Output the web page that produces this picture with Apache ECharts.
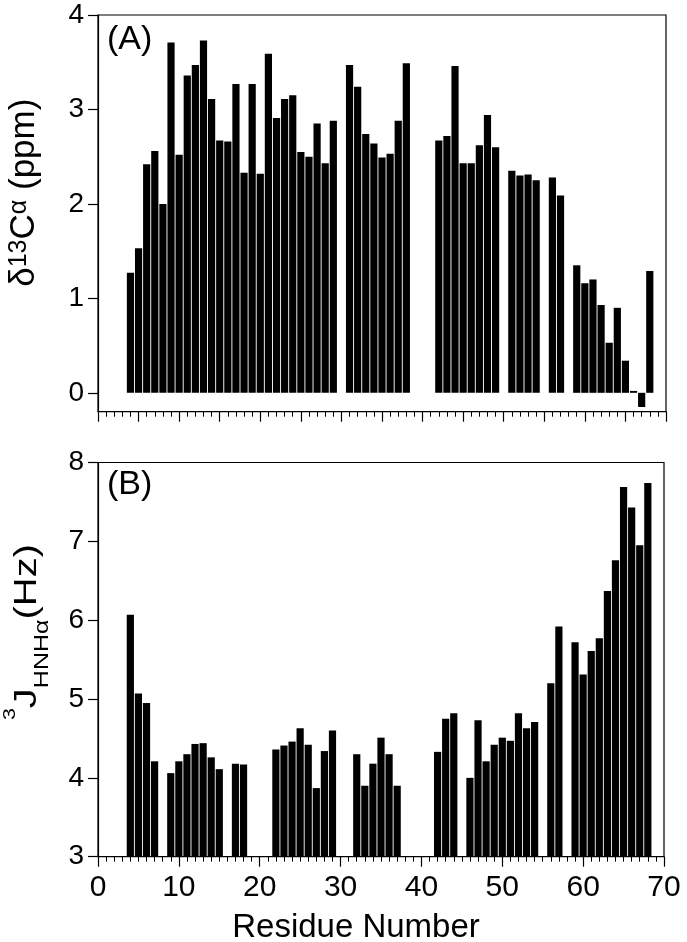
<!DOCTYPE html>
<html>
<head>
<meta charset="utf-8">
<script src="https://cdn.jsdelivr.net/npm/echarts@6/dist/echarts.min.js"></script>
<style>
html,body{margin:0;padding:0;background:#fff;}
#c{width:687px;height:942px;}
</style>
</head>
<body>
<div id="c"></div>
<script>
// Panel A: delta 13C-alpha secondary shift (ppm)
const residuesA = [4,5,6,7,8,9,10,11,12,13,14,15,16,17,18,19,20,21,22,23,24,25,26,27,28,29,
  31,32,33,34,35,36,37,38,
  42,43,44,45,46,47,48,49,
  51,52,53,54,
  56,57,
  59,60,61,62,63,64,65,66,67,68];
const shiftA = [1.27,1.53,2.42,2.56,2.00,3.71,2.52,3.36,3.47,3.73,3.11,2.67,2.66,3.27,2.33,3.27,2.32,3.59,2.91,3.11,3.15,2.55,2.50,2.85,2.43,2.88,
  3.47,3.24,2.74,2.64,2.49,2.53,2.88,3.49,
  2.67,2.72,3.46,2.43,2.43,2.62,2.94,2.60,
  2.35,2.30,2.31,2.25,
  2.28,2.09,
  1.35,1.16,1.20,0.93,0.53,0.90,0.34,0.02,-0.15,1.29];

// Panel B: 3J HNHalpha coupling (Hz)
const residuesB = [4,5,6,7,
  9,10,11,12,13,14,15,
  17,18,
  22,23,24,25,26,27,28,29,
  32,33,34,35,36,37,
  42,43,44,
  46,47,48,49,50,51,52,53,54,
  56,57,
  59,60,61,62,63,64,65,66,67,68];
const couplingB = [6.07,5.07,4.95,4.21,
  4.06,4.21,4.30,4.43,4.44,4.26,4.11,
  4.18,4.17,
  4.36,4.41,4.46,4.63,4.42,3.87,4.34,4.60,
  4.30,3.90,4.18,4.51,4.30,3.90,
  4.33,4.75,4.82,
  4.00,4.73,4.21,4.42,4.51,4.47,4.82,4.63,4.71,
  5.20,5.92,
  5.72,5.31,5.61,5.77,6.37,6.76,7.69,7.43,6.95,7.74];

const yTicksA = [0,1,2,3,4];
const xTitle = 'Residue Number';

const F = 'Liberation Sans';
const dataA = residuesA.map((r,i)=>[r, shiftA[i]]);
const dataB = residuesB.map((r,i)=>[r, couplingB[i]]);

const chart = echarts.init(document.getElementById('c'), null, {renderer:'canvas'});

const axisLineStyle = {color:'#000', width:1.2};
function xAxisCfg(grid, interval, minorSplit, showLabel){
  return {
    gridIndex:grid, type:'value', min:0, max:70, interval:interval,
    axisLine:{show:true, onZero:false, lineStyle:axisLineStyle},
    axisTick:{show:true, length:10, lineStyle:axisLineStyle},
    minorTick:{show:true, splitNumber:minorSplit, length:5, lineStyle:{color:'#000', width:1}},
    axisLabel:{show:showLabel, fontSize:30, fontFamily:F, color:'#000', margin:16},
    splitLine:{show:false}, minorSplitLine:{show:false}
  };
}

const option = {
  animation:false,
  backgroundColor:'#fff',
  grid:[
    {left:98, top:15, width:568, height:396.7, show:true, borderColor:'#000', borderWidth:1.2, outerBoundsMode:'none'},
    {left:98, top:462.5, width:566, height:394.2, show:true, borderColor:'#000', borderWidth:1.2, outerBoundsMode:'none'}
  ],
  xAxis:[
    xAxisCfg(0, 5, 5, false),
    xAxisCfg(1, 10, 10, true)
  ],
  yAxis:[
    {gridIndex:0, type:'value', min:-0.2, max:4,
     axisLine:{show:true, onZero:false, lineStyle:axisLineStyle},
     axisTick:{show:true, length:10, customValues:yTicksA, lineStyle:axisLineStyle},
     axisLabel:{customValues:yTicksA, fontSize:28, fontFamily:F, color:'#000', margin:14},
     splitLine:{show:false}},
    {gridIndex:1, type:'value', min:3, max:8, interval:1,
     axisLine:{show:true, onZero:false, lineStyle:axisLineStyle},
     axisTick:{show:true, length:10, lineStyle:axisLineStyle},
     axisLabel:{fontSize:28, fontFamily:F, color:'#000', margin:14},
     splitLine:{show:false}}
  ],
  series:[
    {type:'bar', xAxisIndex:0, yAxisIndex:0, data:dataA, barWidth:7.2, clip:true,
     itemStyle:{color:'#000'}, silent:true},
    {type:'bar', xAxisIndex:1, yAxisIndex:1, data:dataB, barWidth:7.2, clip:true,
     itemStyle:{color:'#000'}, silent:true}
  ],
  graphic:[
    {type:'text', x:107, y:39.5, silent:true,
     style:{text:'(A)', fontSize:34, fontFamily:F, fill:'#000', align:'left', verticalAlign:'middle'}},
    {type:'text', x:107, y:484.2, silent:true,
     style:{text:'(B)', fontSize:34, fontFamily:F, fill:'#000', align:'left', verticalAlign:'middle'}},
    {type:'text', x:24.6, y:192.7, rotation:Math.PI/2, silent:true,
     style:{text:'{m|δ}{s|13}{m|C}{s|α}{m| (ppm)}', align:'center', verticalAlign:'middle',
       rich:{
         m:{fontSize:35, lineHeight:35, fontFamily:F, fill:'#000', color:'#000'},
         s:{fontSize:25, lineHeight:25, fontFamily:F, fill:'#000', color:'#000', verticalAlign:'top'}
       }}},
    {type:'text', x:27, y:632, rotation:Math.PI/2, scaleX:1.25, silent:true,
     style:{text:'{p|3}{m|J}{b|HNHα}{m|(Hz)}', align:'center', verticalAlign:'middle',
       rich:{
         m:{fontSize:32, lineHeight:50, fontFamily:F, fill:'#000', color:'#000'},
         p:{fontSize:17, lineHeight:17, fontFamily:F, fill:'#000', color:'#000', verticalAlign:'top'},
         b:{fontSize:20, lineHeight:33, fontFamily:F, fill:'#000', color:'#000', verticalAlign:'bottom'}
       }}},
    {type:'text', x:356, y:927.7, silent:true,
     style:{text:xTitle, fontSize:33, fontFamily:F, fill:'#000', align:'center', verticalAlign:'middle'}}
  ]
};
chart.setOption(option);
</script>
</body>
</html>
